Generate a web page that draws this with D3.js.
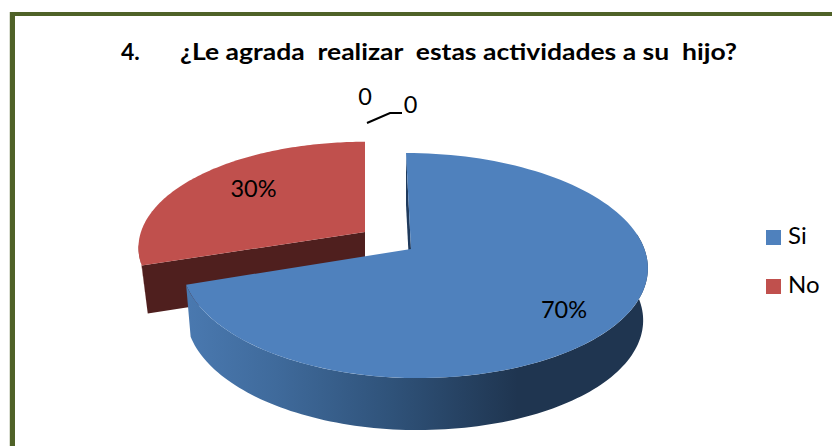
<!DOCTYPE html>
<html><head><meta charset="utf-8">
<script src="https://cdn.jsdelivr.net/npm/d3@7"></script>
<style>html,body{margin:0;padding:0;background:#fff}svg{display:block}text{font-family:Lato,"Open Sans",sans-serif;fill:#000}</style>
</head><body><svg id="c" width="832" height="446"></svg>
<script>
const categories = ["Si","No"];
const values = [70,30];
const percentLabels = ["70%","30%"];
const zeroLabels = ["0","0"];
const titleNumber = "4.";
const titleText = "¿Le agrada  realizar  estas actividades a su  hijo?";
const colors = ["#4f81bd","#c0504d"];

const svg = d3.select("#c");
// Projection of the tilted disc
const A=110.1, B=233.4, P=0.147, DEPTH=52;
const blueC={x:411,y:249,sx:0.975,sy:1,shear:0.052};
const redC ={x:365,y:232,sx:0.96,sy:0.94,shear:0};
function proj(th,c,r=1){
  const u=r*Math.sin(th), v=r*Math.cos(th), d=1+P*v;
  const y=-A*v/d*c.sy, x=B*u/d*(u<0?c.sx:1)+c.shear*y;
  return [c.x+x,c.y+y];
}
const drop=p=>[blueC.x+(p[0]-blueC.x)*0.98,p[1]+DEPTH];
const rim=(a0,a1,c)=>d3.range(0,121).map(i=>proj(a0+(a1-a0)*i/120,c));
const line=d3.line();

const arcs=d3.pie().sort(null).value(d=>d)(values);
const [blue,red]=arcs;

const defs=svg.append("defs");
const g=defs.append("linearGradient").attr("id","wall").attr("gradientUnits","userSpaceOnUse")
  .attr("x1",185).attr("x2",647).attr("y1",0).attr("y2",0);
[[0,"#4a79b0"],[0.2,"#3f6a9b"],[0.45,"#2f5279"],[0.72,"#1f3550"],[1,"#1f3550"]]
  .forEach(s=>g.append("stop").attr("offset",s[0]).attr("stop-color",s[1]));

// frame
svg.append("path").attr("fill","none").attr("stroke","#4f6228").attr("stroke-width",5.2)
  .attr("d",line([[12.4,446],[12.4,14.5],[832,14.5]]));
svg.append("rect").attr("x",15).attr("y",16).attr("width",817).attr("height",430).attr("fill","#fff");

// title
svg.append("text").attr("x",121).attr("y",60).attr("font-size",23).attr("font-weight",700).text(titleNumber);
svg.append("text").attr("x",180).attr("y",60).attr("font-size",23).attr("font-weight",700)
  .attr("xml:space","preserve").style("white-space","pre")
  .attr("textLength",557).attr("lengthAdjust","spacingAndGlyphs").text(titleText);

// red exploded slice
const redRim=rim(red.startAngle,red.endAngle,redC);
const redApex=[redC.x,redC.y];
const rs=redRim[0];
svg.append("path").attr("fill","#8f3a38")
  .attr("d",line([...rim(red.startAngle,red.startAngle+0.2,redC),[rs[0]+6,rs[1]+48]])+"Z");
svg.append("path").attr("fill","#4f1f1e")
  .attr("d",line([rs,redApex,[redApex[0],redApex[1]+48],[rs[0]+6,rs[1]+48]])+"Z");
svg.append("path").attr("fill",colors[1]).attr("d",line([redApex,...redRim])+"Z");

// blue slice
const blueApex=[blueC.x,blueC.y];
const bt=proj(blue.startAngle,blueC);
svg.append("path").attr("fill","#1f3a5c")
  .attr("d",line([bt,blueApex,[blueApex[0],blueApex[1]+DEPTH],[bt[0],bt[1]+DEPTH]])+"Z");
const front=rim(82*Math.PI/180,blue.endAngle,blueC);
svg.append("path").attr("fill","url(#wall)")
  .attr("d",line([...front,...front.slice().reverse().map(drop)])+"Z");
svg.append("path").attr("fill",colors[0])
  .attr("d",line([blueApex,...rim(blue.startAngle,blue.endAngle,blueC)])+"Z");

// labels
const lab=svg.append("g").attr("font-size",23.5).attr("text-anchor","middle");
lab.append("text").attr("x",564).attr("y",318).text(percentLabels[0]);
lab.append("text").attr("x",253.5).attr("y",197).text(percentLabels[1]);
lab.append("text").attr("x",365).attr("y",105).text(zeroLabels[0]);
lab.append("text").attr("x",410.5).attr("y",113).text(zeroLabels[1]);
svg.append("path").attr("fill","none").attr("stroke","#000").attr("stroke-width",2)
  .attr("d",line([[367,123],[390,113],[402,113]]));

// legend
const lg=svg.append("g").selectAll("g").data(categories).join("g")
  .attr("transform",(d,i)=>`translate(766,${230+i*49})`);
lg.append("rect").attr("width",15).attr("height",15).attr("fill",(d,i)=>colors[i]);
lg.append("text").attr("x",22).attr("y",14).attr("font-size",24).text(d=>d);
</script></body></html>
